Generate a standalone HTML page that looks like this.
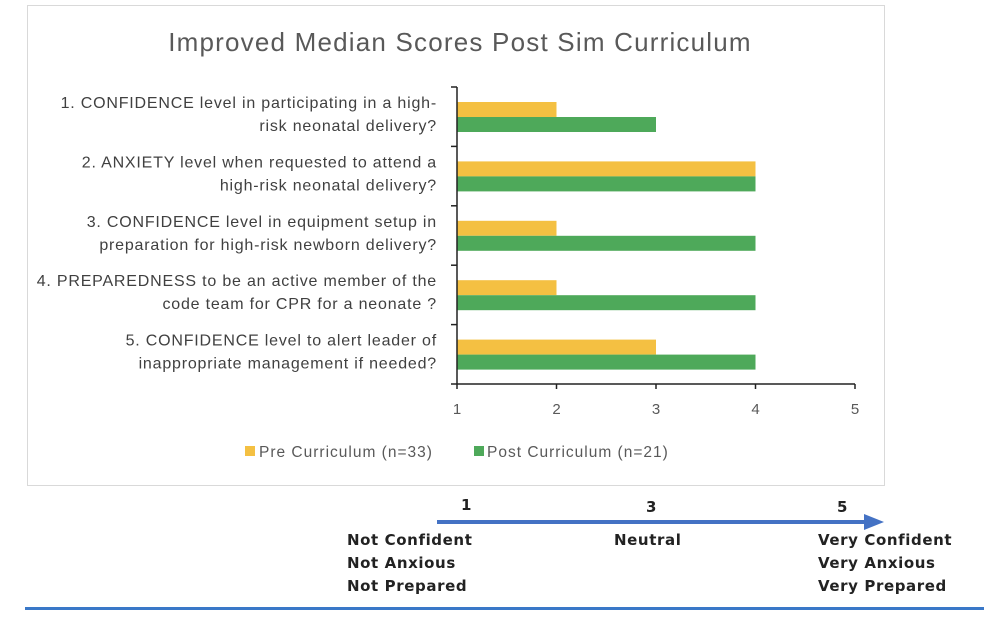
<!DOCTYPE html>
<html><head><meta charset="utf-8"><style>
body{margin:0;width:1002px;height:628px;background:#fff;font-family:"Liberation Sans",sans-serif;position:relative;overflow:hidden}
.t{position:absolute;white-space:nowrap}
</style></head><body>
<div style="position:absolute;left:27px;top:5px;width:858px;height:481px;border:1px solid #d9d9d9;box-sizing:border-box"></div>
<svg width="1002" height="628" style="position:absolute;left:0;top:0" id="svg"></svg>
<div style="font-weight:bold;font-size:15px;color:#222;font-family:'DejaVu Sans',sans-serif;letter-spacing:0.6px">
<div class="t" style="left:461px;top:496px">1</div>
<div class="t" style="left:646px;top:498px">3</div>
<div class="t" style="left:837px;top:498px">5</div>
<div class="t" style="left:347px;top:529px;line-height:23px">Not Confident<br>Not Anxious<br>Not Prepared</div>
<div class="t" style="left:614px;top:529px;line-height:23px">Neutral</div>
<div class="t" style="left:818px;top:529px;line-height:23px">Very Confident<br>Very Anxious<br>Very Prepared</div>
</div>
<div style="position:absolute;left:25px;top:607px;width:959px;height:3px;background:#3a78c8"></div>
<script>
const categories=["1. CONFIDENCE level in participating in a high-|risk neonatal delivery?","2. ANXIETY level when requested to attend a|high-risk neonatal delivery?","3. CONFIDENCE level in equipment setup in|preparation for high-risk newborn delivery?","4. PREPAREDNESS to be an active member of the|code team for CPR for a neonate ?","5. CONFIDENCE level to alert leader of|inappropriate management if needed?"];
const preValues=[2,4,2,2,3];
const postValues=[3,4,4,4,4];
const xTicks=[1,2,3,4,5];
const NS="http://www.w3.org/2000/svg";
const svg=document.getElementById('svg');
const X0=457,X1=855,Y0=87,Y1=384;
const x=v=>X0+(v-1)/(5-1)*(X1-X0);
const band=(Y1-Y0)/categories.length;
function mk(t,a){const e=document.createElementNS(NS,t);for(const k in a)e.setAttribute(k,a[k]);svg.appendChild(e);return e;}
let e=mk('text',{x:460,y:51,'text-anchor':'middle','font-size':26,'letter-spacing':1.2,fill:'#595959','font-family':'Liberation Sans'});e.textContent='Improved Median Scores Post Sim Curriculum';


categories.forEach((c,i)=>{
 const top=Y0+i*band;
 const r1=mk('rect',{x:X0,y:top+15,width:x(preValues[i])-X0,height:15,fill:'#f4c042'});
 
 
 const r2=mk('rect',{x:X0,y:top+30,width:x(postValues[i])-X0,height:15,fill:'#4ea95a'});
 
 
 const parts=c.split('|');
 parts.forEach((p,j)=>{const t=mk('text',{x:437,y:top+21+j*23,'text-anchor':'end','font-size':16,'letter-spacing':0.8,fill:'#404040','font-family':'Liberation Sans'});t.textContent=p;
 
 });
});
mk('line',{x1:X0,y1:Y0,x2:X0,y2:Y1,stroke:'#222','stroke-width':1.5});
mk('line',{x1:X0,y1:Y1,x2:X1,y2:Y1,stroke:'#222','stroke-width':1.5});
for(let i=0;i<=categories.length;i++){const y=Y0+i*band;mk('line',{x1:X0-6,y1:y,x2:X0,y2:y,stroke:'#222','stroke-width':1.5});}
xTicks.forEach(v=>{mk('line',{x1:x(v),y1:Y1,x2:x(v),y2:Y1+5,stroke:'#222','stroke-width':1.5});
 const t=mk('text',{x:x(v),y:Y1+30,'text-anchor':'middle','font-size':15,fill:'#595959','font-family':'Liberation Sans'});t.textContent=v;
 
 });
let l=mk('rect',{x:245,y:446,width:10,height:10,fill:'#f4c042'});


let lt=mk('text',{x:259,y:457,'font-size':15.5,'letter-spacing':1,fill:'#595959','font-family':'Liberation Sans'});lt.textContent='Pre Curriculum (n=33)';


l=mk('rect',{x:474,y:446,width:10,height:10,fill:'#4ea95a'});


lt=mk('text',{x:487,y:457,'font-size':15.5,'letter-spacing':1,fill:'#595959','font-family':'Liberation Sans'});lt.textContent='Post Curriculum (n=21)';


const ar=mk('line',{x1:437,y1:522,x2:866,y2:522,stroke:'#4472c4','stroke-width':4});


mk('polygon',{points:'864,514 884,522 864,530',fill:'#4472c4'});
</script>
</body></html>
